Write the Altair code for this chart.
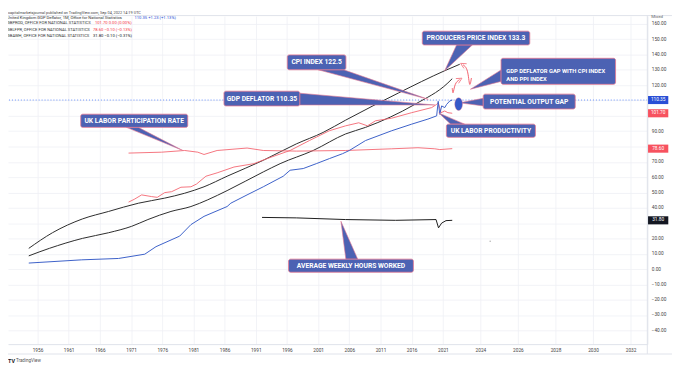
import altair as alt
import pandas as pd

# ---------------- series data (year, value) ----------------
deflator_years = [1954.6, 1963.1, 1969.0, 1973.2, 1975.0, 1978.8, 1980.6, 1982.7, 1986.4, 1987.0,
                  1989.6, 1992.2, 1995.4, 1996.5, 1998.6, 2000.7, 2002.8, 2004.9, 2006.0, 2008.6,
                  2012.8, 2016.0, 2018.6, 2020.0, 2020.25, 2020.5, 2020.8, 2021.3, 2021.6, 2022.1, 2022.5]
deflator_values = [3.9, 6.0, 6.9, 9.7, 14.6, 21.5, 29.0, 34.4, 40.8, 43.0,
                   48.4, 53.7, 60.6, 64.5, 65.6, 68.8, 72.1, 75.3, 77.4, 83.9,
                   90.3, 94.6, 97.9, 100.0, 109.5, 101.0, 106.5, 105.4, 107.5, 109.7, 110.35]

prod_years = [1970.6, 1971.5, 1972.7, 1974.3, 1975.2, 1976.4, 1977.5, 1979.0, 1980.6, 1981.5,
              1983.0, 1984.8, 1987.5, 1990.7, 1992.8, 1996.5, 1999.6, 2002.8, 2005.4, 2007.5,
              2008.9, 2010.2, 2012.8, 2016.0, 2019.2, 2020.0, 2020.25, 2020.7, 2021.3, 2021.8, 2022.5]
prod_values = [43.7, 45.5, 48.4, 47.3, 46.8, 49.9, 50.5, 53.4, 53.7, 55.5,
               60.6, 62.8, 66.6, 68.8, 72.1, 77.4, 83.9, 90.3, 93.5, 95.5,
               93.5, 96.8, 98.5, 102.1, 105.4, 107.5, 108.6, 102.1, 103.2, 102.1, 101.7]

part_years = [1970.6, 1975.9, 1979.6, 1981.7, 1982.7, 1984.8, 1989.6, 1992.2, 1997.5, 2005.4,
              2012.8, 2017.0, 2019.7, 2020.5, 2022.5]
part_values = [75.7, 76.3, 77.4, 76.3, 74.8, 77.4, 79.0, 77.4, 77.0, 77.4,
               78.5, 79.2, 78.5, 78.0, 78.6]

hours_years = [1992.0, 1997.5, 2005.4, 2013.4, 2019.9, 2020.3, 2020.8, 2021.5, 2022.5]
hours_values = [33.7, 33.4, 32.3, 31.8, 32.3, 26.9, 30.0, 31.6, 31.8]

ppi_years = [1954.6, 1958.4, 1963.2, 1967.4, 1972.2, 1976.4, 1979.6, 1982.7, 1986.4, 1992.2,
             1997.5, 2001.8, 2005.4, 2013.9, 2021.3, 2022.9]
ppi_values = [13.5, 23.7, 32.7, 37.6, 43.0, 46.3, 49.5, 53.7, 60.6, 71.0,
              81.7, 89.2, 97.2, 115.0, 129.5, 133.7]

cpi_years = [1954.6, 1957.9, 1963.2, 1967.4, 1971.1, 1973.7, 1977.4, 1980.6, 1983.3, 1986.4,
             1992.2, 1994.9, 2000.2, 2005.4, 2008.6, 2016.5, 2021.8, 2022.5]
cpi_values = [8.6, 13.5, 20.0, 23.7, 27.9, 32.3, 37.6, 40.8, 45.2, 51.2,
              63.4, 68.8, 77.4, 88.2, 92.5, 107.5, 121.5, 124.3]

# ---------------- axes ----------------
x_ticks = [1956, 1961, 1966, 1971, 1976, 1981, 1986, 1991, 1996, 2001, 2006, 2011, 2016, 2021,
           2024, 2026, 2028, 2030, 2032]
y_ticks = list(range(-40, 161, 10))
x_domain = [1951.27, 2022.5, 2032.89]
y_domain = [-49.03, 165.16]

# ---------------- callouts ----------------
callout_texts = ["PRODUCERS PRICE INDEX 133.3", "CPI INDEX 122.5", "GDP DEFLATOR 110.35",
                 "GDP DEFLATOR GAP WITH CPI INDEX\nAND PPI INDEX", "POTENTIAL OUTPUT GAP",
                 "UK LABOR PRODUCTIVITY", "UK LABOR PARTICIPATION RATE", "AVERAGE WEEKLY HOURS WORKED"]
callout_x1 = [2017.7, 1996.05, 1985.9, 2025.1, 2024.15, 2021.56, 1962.93, 1996.25]
callout_x2 = [2026.63, 2005.45, 1998.05, 2031.2, 2029.05, 2026.93, 1980.09, 2016.27]
callout_v1 = [155.3, 139.8, 116.1, 137.6, 114.2, 94.6, 101.1, 6.45]
callout_v2 = [146.3, 130.1, 106.5, 120.6, 104.5, 86.0, 92.5, -2.1]
callout_tx = [2023.76, 2000.75, 1991.98, 2025.38, 2026.6, 2024.56, 1971.51, 2006.26]
callout_tv = [150.8, 135.0, 111.3, 129.1, 109.35, 90.3, 96.8, 2.2]
# pointer wedges: base point A, base point B, tip (year, value)
wedge_a = [(2022.73, 146.3), (2001.0, 130.1), (1998.05, 114.8), (2025.1, 130.0), (2024.15, 111.5),
           (2022.25, 94.6), (1970.26, 92.5), (2005.44, 6.45)]
wedge_b = [(2023.57, 146.3), (2005.1, 130.1), (1998.05, 107.1), (2025.1, 122.5), (2024.15, 106.5),
           (2023.16, 94.6), (1972.16, 92.5), (2007.35, 6.45)]
wedge_tip = [(2021.29, 129.5), (2018.65, 110.8), (2019.71, 107.1), (2023.47, 117.4), (2022.9, 108.5),
             (2020.34, 101.9), (1979.3, 77.4), (2004.65, 31.2)]

# red hand-drawn arrows
arrow_a_years = [2022.54, 2022.5, 2022.63, 2022.89]
arrow_a_values = [112.9, 118.1, 121.5, 123.7]
arrow_b_years = [2023.42, 2023.52, 2023.34, 2023.07]
arrow_b_values = [117.2, 124.7, 131.0, 133.4]
ellipse_year, ellipse_value = 2022.84, 107.7
stray_year, stray_value = 2024.52, 18.1

# right price-scale tags
tag_values = [110.35, 101.70, 78.60, 31.80]
tag_colors = ["#2a4fd6", "#f7525f", "#f7525f", "#131722"]

# legend rows
legend_names = ["United Kingdom GDP Deflator, 1M, Office for National Statistics",
                "GBPROD, OFFICE FOR NATIONAL STATISTICS",
                "GBLFPR, OFFICE FOR NATIONAL STATISTICS",
                "GBAWH, OFFICE FOR NATIONAL STATISTICS"]
legend_values = ["110.35  +1.23 (+1.13%)", "101.70  0.00 (0.00%)",
                 "78.60  \u22120.10 (\u22120.13%)", "31.80  \u22120.10 (\u22120.31%)"]
legend_colors = ["#2a4fd6", "#f23645", "#f23645", "#131722"]

# ---------------- build ----------------
W, H = 647, 332
FONT = "Roboto"
xs = alt.Scale(domain=x_domain, range=[0, 449.6, 647], zero=False, nice=False)
ys = alt.Scale(domain=y_domain, zero=False, nice=False)

xaxis = alt.Axis(values=x_ticks, format="d", grid=True, gridColor="#eef0f5", gridWidth=0.8,
                 domainColor="#e0e3eb", tickSize=0, labelFontSize=4.8, labelColor="#444",
                 labelPadding=3, title=None, labelFont=FONT, labelFlush=False, labelOverlap=False,
                 labelBound=False)
yaxis = alt.Axis(values=y_ticks, orient="right", format=".2f", grid=True, gridColor="#eef0f5",
                 gridWidth=0.8, domainColor="#e0e3eb", tickSize=0, labelFontSize=4.8,
                 labelColor="#444", labelPadding=4, title=None, labelFont=FONT, labelFlush=False,
                 labelOverlap=False, labelBound=False,
                 labelExpr="(datum.value==110||datum.value==100||datum.value==80||datum.value==30) ? '' : datum.label")


def X(field="year"):
    return alt.X(f"{field}:Q", scale=xs, axis=xaxis)


def Y(field="v"):
    return alt.Y(f"{field}:Q", scale=ys, axis=yaxis)


def series(years, values):
    return pd.DataFrame({"year": years, "v": values})


def line(years, values, color, width=1.0, interp="linear"):
    return alt.Chart(series(years, values)).mark_line(
        color=color, strokeWidth=width, interpolate=interp).encode(x=X(), y=Y())


layers = []
layers.append(alt.Chart(pd.DataFrame({"year": [x_domain[0]], "v": [tag_values[0]]})).mark_rule(
    color="#2962ff", strokeDash=[1, 2], strokeWidth=0.7).encode(y=Y()))
layers.append(line(ppi_years, ppi_values, "#2b2b2b", 1.0, "monotone"))
layers.append(line(cpi_years, cpi_values, "#2b2b2b", 1.0, "monotone"))
layers.append(line(prod_years, prod_values, "#f46571", 0.9))
layers.append(line(part_years, part_values, "#f46571", 0.9))
layers.append(line(hours_years, hours_values, "#1b1b1b", 1.0))
layers.append(line(deflator_years, deflator_values, "#3b5fc8", 1.0))

# wedges
rows = []
for i in range(len(callout_texts)):
    for k, (yr, v) in enumerate([wedge_a[i], wedge_tip[i], wedge_b[i]]):
        rows.append({"id": i, "k": k, "year": yr, "v": v})
wedge_df = pd.DataFrame(rows)
layers.append(alt.Chart(wedge_df).mark_line(
    fill="#4c62b3", stroke="#e57791", strokeWidth=0.6, interpolate="linear-closed").encode(
    x=X(), y=Y(), detail="id:N", order="k:Q"))

box_df = pd.DataFrame({"t": callout_texts, "x1": callout_x1, "x2": callout_x2,
                       "v1": callout_v1, "v2": callout_v2, "tx": callout_tx, "tv": callout_tv})
layers.append(alt.Chart(box_df).mark_rect(
    fill="#4c62b3", stroke="#e57791", strokeWidth=0.8, cornerRadius=2).encode(
    x=X("x1"), x2="x2:Q", y=Y("v1"), y2="v2:Q"))

single = box_df[~box_df.t.str.contains("\n")]
layers.append(alt.Chart(single).mark_text(
    color="white", fontWeight="bold", fontSize=6.8, font=FONT, baseline="middle").encode(
    x=X("tx"), y=Y("tv"), text="t:N"))
multi = box_df[box_df.t.str.contains("\n")]
layers.append(alt.Chart(multi).mark_text(
    color="white", fontWeight="bold", fontSize=5.9, font=FONT, baseline="middle", align="left",
    lineBreak="\n", lineHeight=8).encode(
    x=X("tx"), y=Y("tv"), text="t:N"))

# ellipse
layers.append(alt.Chart(pd.DataFrame({"year": [ellipse_year], "v": [ellipse_value]})).mark_point(
    shape="M-0.6,0 A0.6,1 0 1,0 0.6,0 A0.6,1 0 1,0 -0.6,0 Z", size=169, filled=True,
    fill="#3559c9", stroke="#e57791", strokeWidth=0.4, opacity=1).encode(x=X(), y=Y()))

# red arrows
layers.append(line(arrow_a_years, arrow_a_values, "#f0505e", 0.9, "basis"))
layers.append(line(arrow_b_years, arrow_b_values, "#f0505e", 0.9, "basis"))
head_df = pd.DataFrame({"year": [arrow_a_years[-1], arrow_b_years[-1]],
                        "v": [arrow_a_values[-1], arrow_b_values[-1]], "a": [60, 300]})
layers.append(alt.Chart(head_df).mark_point(
    shape="M-1,1 L0,-1 L1,1", size=30, filled=False, stroke="#f0505e", strokeWidth=0.9).encode(
    x=X(), y=Y(), angle=alt.Angle("a:Q", scale=None)))

layers.append(alt.Chart(pd.DataFrame({"year": [stray_year], "v": [stray_value]})).mark_point(
    size=2, filled=True, color="#888").encode(x=X(), y=Y()))

# price scale tags
tag_df = pd.DataFrame({"v": tag_values, "c": tag_colors,
                       "t": [f"{v:.2f}" for v in tag_values]})
layers.append(alt.Chart(tag_df).mark_point(
    shape="M-1,-0.4 L1,-0.4 L1,0.4 L-1,0.4 Z", size=420, filled=True, opacity=1).encode(
    x=alt.value(658), y=Y(), fill=alt.Fill("c:N", scale=None)))
layers.append(alt.Chart(tag_df).mark_text(
    color="white", fontSize=4.8, font=FONT, baseline="middle", align="center").encode(
    x=alt.value(658), y=Y(), text="t:N"))

# frame lines
frame_df = pd.DataFrame({"k": [0]})
layers.append(alt.Chart(frame_df).mark_rule(color="#e0e3eb", strokeWidth=1).encode(
    x=alt.value(-8), x2=alt.value(672), y=alt.value(-0.5)))
layers.append(alt.Chart(frame_df).mark_rule(color="#e0e3eb", strokeWidth=1).encode(
    x=alt.value(-8), x2=alt.value(672), y=alt.value(342)))
layers.append(alt.Chart(frame_df).mark_rule(color="#e0e3eb", strokeWidth=1).encode(
    x=alt.value(647), y=alt.value(-0.5), y2=alt.value(342)))


def label(text, x, y, color="#333", size=4.2, weight="normal", align="left"):
    return alt.Chart(pd.DataFrame({"t": [text]})).mark_text(
        color=color, fontSize=size, font=FONT, fontWeight=weight, align=align,
        baseline="middle").encode(text="t:N", x=alt.value(x), y=alt.value(y))


layers.append(label("capitalmarketsjournal published on TradingView.com, Sep 04, 2022 14:19 UTC",
                    0, -3.6, "#444", 3.9))
legend_y = [1.5, 7.5, 13.8, 20.0]
legend_vx = [128, 88, 86, 86]
for name, val, col, yy, vx in zip(legend_names, legend_values, legend_colors, legend_y, legend_vx):
    layers.append(label(name, -1, yy))
    layers.append(label(val, vx, yy, col))
layers.append(label("Mixed", 651, 1, "#666", 4.4))
layers.append(label("TV", 0, 349, "#131722", 5.5, "bold"))
layers.append(label("TradingView", 8, 349, "#555", 4.6))

chart = alt.layer(*layers).properties(
    width=W, height=H,
    autosize=alt.AutoSizeParams(type="none"),
    padding={"left": 0, "top": 6, "right": 25, "bottom": 23},
    background="white",
).configure_view(stroke=None)

chart.save("out.html", embed_options={"renderer": "svg", "actions": False})
